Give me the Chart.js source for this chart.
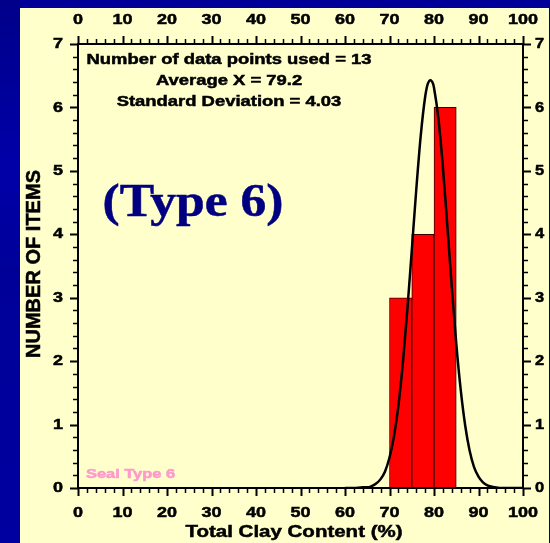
<!DOCTYPE html>
<html>
<head>
<meta charset="utf-8">
<script src="https://cdn.jsdelivr.net/npm/chart.js@4/dist/chart.umd.min.js"></script>
<style>
  html, body { margin: 0; padding: 0; background: #000099; }
  #myChart { display: block; }
</style>
</head>
<body>
<canvas id="myChart" width="550" height="543"></canvas>
<script>
// histogram bins (centre of each 5% bin) and counts
const binCenters = [72.5, 77.5, 82.5];
const binCounts = [3, 4, 6];

// fitted normal curve
const curveX = [60, 62, 64, 65, 66, 67, 68, 69, 70, 71, 72, 73, 74, 75, 76, 77, 78, 78.6, 79.2, 79.8, 80, 81, 82, 83, 84, 85, 86, 87, 88, 89, 90, 91, 92, 93, 94, 95, 97, 100];
const curveY = [0, 0, 0.01, 0.01, 0.03, 0.07, 0.14, 0.26, 0.48, 0.81, 1.3, 1.97, 2.8, 3.74, 4.69, 5.54, 6.16, 6.37, 6.43, 6.37, 6.31, 5.82, 5.06, 4.13, 3.17, 2.28, 1.55, 0.99, 0.59, 0.33, 0.18, 0.09, 0.04, 0.02, 0.01, 0, 0, 0];

const xTicks = [0, 10, 20, 30, 40, 50, 60, 70, 80, 90, 100];
const yTicks = [0, 1, 2, 3, 4, 5, 6, 7];

const statLines = [
  'Number of data points used = 13',
  'Average X = 79.2',
  'Standard Deviation = 4.03',
];

const SANS = '"Liberation Sans", Arial, sans-serif';

// the slide text is drawn a bit wider than the font, so stretch it sideways
function wideText(ctx, text, x, y, sx, angle = 0) {
  ctx.save();
  ctx.translate(x, y);
  if (angle) ctx.rotate(angle);
  ctx.scale(sx, 1);
  ctx.lineWidth = 0.5;
  ctx.strokeStyle = ctx.fillStyle;
  ctx.fillText(text, 0, 0);
  ctx.strokeText(text, 0, 0);
  ctx.restore();
}

const bgPlugin = {
  id: 'slideBackground',
  beforeDraw(chart) {
    const { ctx, width, height } = chart;
    ctx.save();
    const g = ctx.createLinearGradient(0, 0, 20, height);
    g.addColorStop(0, '#00008a');
    g.addColorStop(0.3, '#0000a8');
    g.addColorStop(0.5, '#000099');
    g.addColorStop(1, '#0000a0');
    ctx.fillStyle = '#000099';
    ctx.fillRect(0, 0, width, height);
    ctx.fillStyle = g;
    ctx.fillRect(0, 0, 20, height);
    ctx.fillStyle = '#ffffcc';
    ctx.fillRect(20, 8, 529, height - 8);
    ctx.restore();
  },
};

const axesPlugin = {
  id: 'framedAxes',
  afterDatasetsDraw(chart) {
    const {
      ctx,
      chartArea: { top, bottom, left, right },
      scales: { x, y },
    } = chart;
    ctx.save();
    ctx.strokeStyle = '#000';
    ctx.fillStyle = '#000';

    // x ticks, top and bottom, every 2 units
    for (let v = 0; v <= 100; v += 2) {
      const px = Math.round(x.getPixelForValue(v)) + 0.5;
      const major = v % 10 === 0;
      const len = major ? 8 : 5;
      ctx.lineWidth = major ? 2 : 1.5;
      ctx.beginPath();
      ctx.moveTo(px, bottom);
      ctx.lineTo(px, bottom + len);
      ctx.moveTo(px, top);
      ctx.lineTo(px, top - len);
      ctx.stroke();
    }
    // y ticks, left and right, every 0.2
    for (let i = 0; i <= 35; i++) {
      const v = i / 5;
      const py = Math.round(y.getPixelForValue(v)) + 0.5;
      const major = i % 5 === 0;
      const len = major ? 8 : 5;
      ctx.lineWidth = major ? 2 : 1.5;
      ctx.beginPath();
      ctx.moveTo(left, py);
      ctx.lineTo(left - len, py);
      ctx.moveTo(right, py);
      ctx.lineTo(right + len, py);
      ctx.stroke();
    }

    // frame
    ctx.lineWidth = 2;
    ctx.strokeRect(left, top, right - left, bottom - top);

    // tick labels
    ctx.font = 'bold 15px ' + SANS;
    ctx.textBaseline = 'middle';
    const tickSx = 1.2;
    ctx.textAlign = 'center';
    xTicks.forEach((v) => {
      const px = x.getPixelForValue(v);
      wideText(ctx, String(v), px, top - 24, tickSx);
      wideText(ctx, String(v), px, bottom + 25, tickSx);
    });
    yTicks.forEach((v) => {
      const py = y.getPixelForValue(v);
      ctx.textAlign = 'right';
      wideText(ctx, String(v), left - 15, py, tickSx);
      ctx.textAlign = 'left';
      wideText(ctx, String(v), right + 12, py, 1.1);
    });

    // axis titles
    ctx.textAlign = 'center';
    ctx.font = 'bold 17px ' + SANS;
    let t = 'Total Clay Content (%)';
    wideText(ctx, t, 294, bottom + 44, 217 / ctx.measureText(t).width);
    ctx.font = 'bold 20px ' + SANS;
    t = 'NUMBER OF ITEMS';
    wideText(ctx, t, 34, 264, 188 / ctx.measureText(t).width, -Math.PI / 2);

    // statistics block
    ctx.font = 'bold 15px ' + SANS;
    const statSx = 285 / ctx.measureText(statLines[0]).width;
    statLines.forEach((line, i) => {
      wideText(ctx, line, 229, 60 + i * 21, statSx);
    });

    // big label
    ctx.fillStyle = '#000080';
    ctx.textBaseline = 'alphabetic';
    ctx.font = 'bold 47px "Liberation Serif", "Times New Roman", serif';
    t = '(Type 6)';
    wideText(ctx, t, 193, 216, 181 / ctx.measureText(t).width);

    // seal label
    ctx.textBaseline = 'middle';
    ctx.fillStyle = '#ff99cc';
    ctx.font = 'bold 12px ' + SANS;
    ctx.textAlign = 'left';
    t = 'Seal Type 6';
    wideText(ctx, t, 86, 475, 89 / ctx.measureText(t).width);
    ctx.restore();
  },
};

const config = {
  type: 'bar',
  data: {
    datasets: [
      {
        type: 'line',
        data: curveX.map((v, i) => ({ x: v, y: curveY[i] })),
        borderColor: '#000',
        borderWidth: 2.5,
        pointRadius: 0,
        fill: false,
        cubicInterpolationMode: 'monotone',
        order: 0,
      },
      {
        type: 'bar',
        data: binCenters.map((v, i) => ({ x: v, y: binCounts[i] })),
        backgroundColor: '#ff0000',
        borderColor: '#3a0000',
        borderWidth: 1,
        barPercentage: 1,
        categoryPercentage: 1,
        order: 1,
      },
    ],
  },
  options: {
    responsive: false,
    animation: false,
    devicePixelRatio: 1,
    layout: { padding: { left: 78, right: 27, top: 44, bottom: 55 } },
    plugins: {
      legend: { display: false },
      tooltip: { enabled: false },
      title: { display: false },
    },
    scales: {
      x: { type: 'linear', min: 0, max: 100, offset: false, display: false },
      y: { min: 0, max: 7, display: false },
    },
  },
  plugins: [bgPlugin, axesPlugin],
};

const chart = new Chart(document.getElementById('myChart'), config);
</script>
</body>
</html>
